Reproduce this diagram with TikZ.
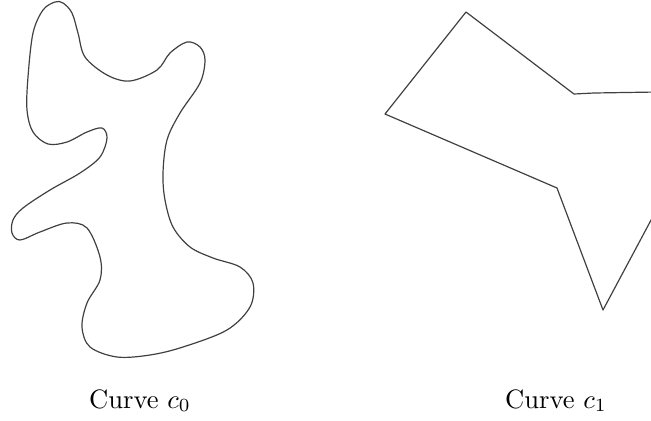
\documentclass[tikz,border=0pt]{standalone}
\begin{document}
\begin{tikzpicture}[x=0.376pt,y=-0.376pt,
  curvestyle/.style={draw=black!75,line width=0.45pt,line join=round},
  labelstyle/.style={font=\fontsize{10}{12}\selectfont,anchor=base}]
\useasboundingbox (0,0) rectangle (651,421);
\clip (0,0) rectangle (651,421);
% Curve c0
\draw[curvestyle] plot[smooth cycle,tension=0.55] coordinates {
 (55,2) (43,10) (33,33) (28,77) (27,110) (33,132) (48,144) (67,142)
 (87,132) (102,128) (107,138) (100,157) (80,173) (50,190) (23,208)
 (13,220) (12,233) (20,240) (40,232) (67,223) (87,228) (100,257)
 (100,280) (87,303) (82,327) (90,347) (117,357) (150,355) (183,347)
 (227,330) (250,307) (253,283) (240,267) (213,258) (190,247) (173,227)
 (165,200) (163,173) (167,140) (180,113) (200,83) (205,60) (200,47)
 (187,42) (170,53) (157,70) (130,81) (107,75) (85,57) (78,33)
 (72,13) (63,3)};
% Curve c1
\coordinate (p1) at (466,12);
\coordinate (p2) at (574,94);
\coordinate (p3) at (594,93);
\coordinate (p4) at (720,91);
\coordinate (p5) at (603,310);
\coordinate (p6) at (557,188);
\coordinate (p7) at (385,114);
\draw[curvestyle] (p1) -- (p2) -- (p3) -- (p4) -- (p5) -- (p6) -- (p7) -- cycle;
% labels
\node[labelstyle] (l0) at (140,408) {Curve $c_0$};
\node[labelstyle] (l1) at (556,408) {Curve $c_1$};
\end{tikzpicture}
\end{document}
